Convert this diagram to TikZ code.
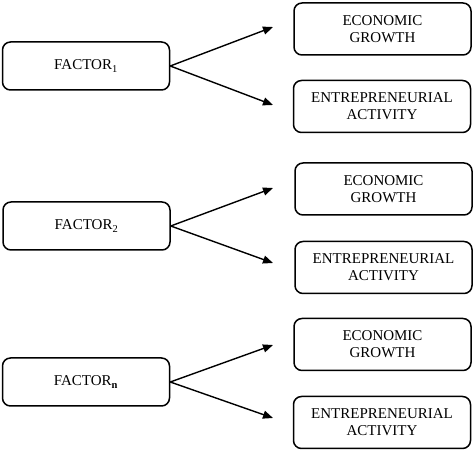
\documentclass[tikz,border=0pt]{standalone}
\usepackage{fontspec}
\setmainfont{Liberation Serif}
\usetikzlibrary{arrows.meta}
\begin{document}
\begin{tikzpicture}[x=1pt,y=1pt,
  box/.style={draw, line width=1.5pt, rounded corners=8pt, align=center,
    font=\fontsize{15}{17}\selectfont, inner sep=0pt},
  factorbox/.style={box, minimum width=167pt, minimum height=48pt},
  outbox/.style={box, minimum width=177pt, minimum height=52pt},
  arr/.style={line width=1.4pt, -{Triangle[length=10pt,width=8pt]}}]
\useasboundingbox (0,0) rectangle (474,452);
% group 1
\node[factorbox] (f1) at (86,386) {FACTOR\textsubscript{1}};
\node[outbox] (eg1) at (382.5,423) {ECONOMIC\\GROWTH};
\node[outbox] (ea1) at (382,345.5) {ENTREPRENEURIAL\\ACTIVITY};
\coordinate (t1a) at (273,425);
\coordinate (t1b) at (273,347);
\draw[arr] (f1.east) -- (t1a);
\draw[arr] (f1.east) -- (t1b);
% group 2
\node[factorbox] (f2) at (86.5,226) {FACTOR\textsubscript{2}};
\node[outbox] (eg2) at (383.5,263) {ECONOMIC\\GROWTH};
\node[outbox] (ea2) at (383.5,184.5) {ENTREPRENEURIAL\\ACTIVITY};
\coordinate (t2a) at (273,264);
\coordinate (t2b) at (273,189);
\draw[arr] (f2.east) -- (t2a);
\draw[arr] (f2.east) -- (t2b);
% group 3
\node[factorbox] (f3) at (86,70) {FACTOR\textsubscript{\textbf{n}}};
\node[outbox] (eg3) at (382.5,107.5) {ECONOMIC\\GROWTH};
\node[outbox] (ea3) at (382,29.5) {ENTREPRENEURIAL\\ACTIVITY};
\coordinate (t3a) at (273,107);
\coordinate (t3b) at (273,34);
\draw[arr] (f3.east) -- (t3a);
\draw[arr] (f3.east) -- (t3b);
\end{tikzpicture}
\end{document}
